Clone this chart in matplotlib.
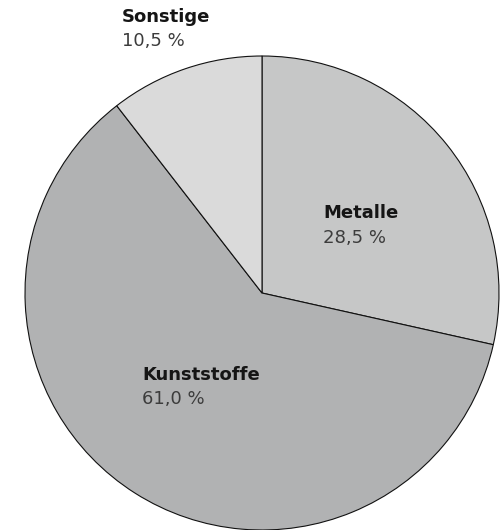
import matplotlib.pyplot as plt

labels = ["Metalle", "Kunststoffe", "Sonstige"]
shares = [28.5, 61.0, 10.5]
colors = ["#c6c7c7", "#b1b2b3", "#dadada"]

W, H = 501, 530
cx, cy, r = 262, 293, 237   # pie centre / radius in pixels


def to_data(px, py):
    return (px - cx) / r, (cy - py) / r


plt.rcParams['font.family'] = ['DejaVu Sans']

fig = plt.figure(figsize=(W / 100, H / 100), dpi=100)
ax = fig.add_axes([0, 0, 1, 1])
ax.pie(shares, colors=colors, startangle=90, counterclock=False, radius=1,
       wedgeprops=dict(edgecolor="#111111", linewidth=0.8))
ax.set_xlim(-cx / r, (W - cx) / r)
ax.set_ylim(-(H - cy) / r, cy / r)
ax.set_aspect("equal")
ax.axis("off")

# label anchors: left x, baseline of name, baseline of value (pixels)
label_pos = {"Metalle": (323, 218, 243),
             "Kunststoffe": (142, 380, 404),
             "Sonstige": (122, 22, 46)}

for name, val in zip(labels, shares):
    px, py1, py2 = label_pos[name]
    x, y = to_data(px, py1)
    ax.text(x, y, name, fontsize=13, fontweight="bold", color="#151515",
            ha="left", va="baseline")
    x2, y2 = to_data(px, py2)
    ax.text(x2, y2, f"{val:.1f}".replace(".", ",") + " %", fontsize=13,
            color="#3c3c3c", ha="left", va="baseline")

fig.savefig("out.png", dpi=100)
